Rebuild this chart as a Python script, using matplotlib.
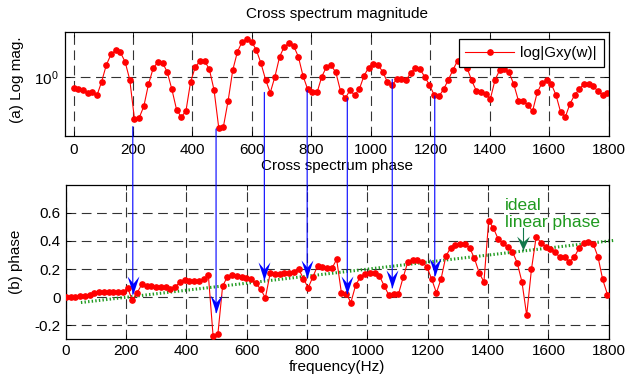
import numpy as np
import matplotlib
matplotlib.use("Agg")
import matplotlib.pyplot as plt
from matplotlib.path import Path
from matplotlib.patches import ConnectionPatch
from matplotlib.transforms import blended_transform_factory
from matplotlib.ticker import NullLocator, FuncFormatter

plt.rcParams["font.family"] = ["Liberation Sans", "DejaVu Sans"]
plt.rcParams["mathtext.default"] = "regular"
plt.rcParams["axes.unicode_minus"] = False
plt.rcParams["font.size"] = 11
plt.rcParams["lines.scale_dashes"] = False

# frequency grid of the measured spectrum (Hz)
freq = np.arange(115) * 15.75

# |Gxy(w)|
gxy_mag = [
    0.883, 0.872, 0.862, 0.832, 0.835, 0.806, 0.947, 1.153, 1.306, 1.369,
    1.337, 1.199, 0.970, 0.613, 0.618, 0.708, 0.918, 1.108, 1.195, 1.185,
    1.062, 0.865, 0.681, 0.625, 0.671, 0.947, 1.126, 1.208, 1.208, 1.095,
    0.859, 0.551, 0.558, 0.755, 1.087, 1.348, 1.517, 1.558, 1.517, 1.380,
    1.180, 0.970, 0.832, 1.005, 1.271, 1.430, 1.486, 1.442, 1.271, 1.013,
    0.865, 0.842, 0.835, 1.005, 1.126, 1.146, 1.058, 0.849, 0.778, 0.855,
    0.810, 0.865, 1.013, 1.117, 1.171, 1.153, 1.066, 0.944, 0.911, 0.973,
    0.973, 0.962, 1.053, 1.108, 1.095, 1.001, 0.911, 0.810, 0.797, 0.865,
    0.966, 1.087, 1.213, 1.227, 1.117, 0.962, 0.850, 0.837, 0.818, 0.774,
    0.968, 1.087, 1.104, 1.056, 0.917, 0.756, 0.756, 0.720, 0.669, 0.834,
    0.931, 0.962, 0.922, 0.810, 0.662, 0.625, 0.731, 0.810, 0.868, 0.927,
    0.920, 0.895, 0.847, 0.811, 0.827,
]

# phase of Gxy(w)
gxy_phase = [
    0.000, 0.000, 0.000, 0.005, 0.012, 0.015, 0.030, 0.034, 0.034, 0.034,
    0.034, 0.034, 0.034, 0.066, -0.021, 0.031, 0.092, 0.083, 0.078, 0.074,
    0.074, 0.074, 0.057, 0.074, 0.105, 0.121, 0.114, 0.114, 0.114, 0.126,
    0.157, -0.279, -0.264, 0.079, 0.145, 0.157, 0.150, 0.145, 0.138, 0.133,
    0.098, 0.057, -0.005, 0.169, 0.162, 0.162, 0.169, 0.174, 0.181, 0.200,
    0.133, 0.066, 0.145, 0.224, 0.216, 0.205, 0.205, 0.269, 0.031, 0.026,
    -0.038, 0.086, 0.145, 0.162, 0.174, 0.169, 0.152, 0.081, 0.014, 0.021,
    0.021, 0.141, 0.252, 0.264, 0.264, 0.252, 0.216, 0.129, 0.031, 0.133,
    0.293, 0.352, 0.371, 0.376, 0.376, 0.352, 0.276, 0.174, 0.109, 0.545,
    0.491, 0.414, 0.383, 0.355, 0.324, 0.245, 0.109, -0.129, 0.198, 0.431,
    0.388, 0.359, 0.341, 0.319, 0.284, 0.284, 0.252, 0.284, 0.348, 0.388,
    0.395, 0.379, 0.288, 0.126, 0.019,
]

# ideal linear phase, end points
ideal_freq = [50, 1820]
ideal_phase = [-0.038, 0.405]

# blue arrows: from magnitude dips down to the phase jumps
arrow_freq = [222, 498, 658, 800, 933, 1082, 1223]
arrow_start_mag = [0.558, 0.543, 0.835, 0.855, 0.778, 0.973, 0.801]
arrow_tip_phase = [0.021, -0.109, 0.121, 0.138, 0.026, 0.066, 0.150]

# green note arrow
note_freq = 1516
note_tail = 0.49
note_tip = 0.336

red = "#ff0000"
green = "#1f9a1f"
dark_green = "#12784a"
grid_style = dict(color="0.2", linestyle=(0, (7, 4)), linewidth=0.8)


# arrow head shaped like the matlab one, tip at the origin
def make_head(half_width):
    verts = [(0, 0), (half_width, 1), (0, 0.6), (-half_width, 1), (0, 0)]
    codes = [Path.MOVETO, Path.LINETO, Path.LINETO, Path.LINETO, Path.CLOSEPOLY]
    return Path(verts, codes)


def style_axes(ax):
    ax.tick_params(which="both", direction="in", length=3.5, width=0.6,
                   top=True, right=True, labelsize=11)
    for spine in ax.spines.values():
        spine.set_linewidth(0.9)
    ax.grid(True, **grid_style)
    ax.set_axisbelow(True)


fig = plt.figure(figsize=(6.27, 3.83), dpi=100)
ax1 = fig.add_axes([0.104, 0.645, 0.867, 0.2715])
ax2 = fig.add_axes([0.105, 0.114, 0.866, 0.4035])

# upper plot: magnitude
ax1.plot(freq, gxy_mag, color=red, linewidth=0.8, marker="o",
         markersize=3.8, label="log|Gxy(w)|")
ax1.set_yscale("log")
ax1.set_ylim(0.5, 1.7)
ax1.set_yticks([1])
ax1.yaxis.set_minor_locator(NullLocator())
ax1.set_xlim(-28, 1800)
ax1.set_xticks(range(0, 1801, 200))
style_axes(ax1)
ax1.tick_params(axis="x", pad=5)
ax1.tick_params(axis="y", pad=5)
ax1.set_title("Cross spectrum magnitude", fontsize=11, pad=9.9)
ax1.set_ylabel("(a) Log mag.", fontsize=11)
ax1.yaxis.set_label_coords(-0.0754, 0.54)
leg = ax1.legend(loc="upper right", bbox_to_anchor=(0.991, 0.93),
                 borderaxespad=0, fancybox=False, edgecolor="black",
                 framealpha=1, numpoints=1, handlelength=3.2,
                 handletextpad=0.4, borderpad=0.45, fontsize=11)
leg.get_frame().set_linewidth(0.9)

# lower plot: phase
ax2.plot(freq, gxy_phase, color=red, linewidth=0.8, marker="o",
         markersize=3.8, zorder=3)
ax2.plot(ideal_freq, ideal_phase, color=green, linewidth=2.2,
         linestyle=(0, (1, 1.6)), clip_on=False, zorder=2)
ax2.set_xlim(0, 1800)
ax2.set_ylim(-0.3, 0.8)
ax2.set_xticks(range(0, 1801, 200))
ax2.set_yticks([-0.2, 0, 0.2, 0.4, 0.6])
ax2.yaxis.set_major_formatter(FuncFormatter(lambda v, p: f"{v:g}"))
style_axes(ax2)
ax2.set_title("Cross spectrum phase", fontsize=11, pad=10.5)
ax2.set_xlabel("frequency(Hz)", fontsize=11, labelpad=1.5)
ax2.set_ylabel("(b) phase", fontsize=11)
ax2.yaxis.set_label_coords(-0.079, 0.5)

# blue arrows crossing from the upper plot into the lower one
start_trans = blended_transform_factory(ax2.transData, ax1.transData)
for f, m, t in zip(arrow_freq, arrow_start_mag, arrow_tip_phase):
    con = ConnectionPatch(xyA=(f, m), coordsA=start_trans,
                          xyB=(f, t), coordsB=ax2.transData,
                          color="blue", linewidth=0.8)
    fig.add_artist(con)
ax2.plot(arrow_freq, arrow_tip_phase, linestyle="none",
         marker=make_head(0.33), markersize=26, color="blue",
         markeredgewidth=0, clip_on=False, zorder=5)

# ideal linear phase note
ax2.text(1457, 0.478, "ideal\nlinear phase", color=green, fontsize=12.5,
         va="bottom", ha="left", linespacing=1.15)
ax2.plot([note_freq, note_freq], [note_tail, note_tip], color=dark_green,
         linewidth=0.8, zorder=4)
ax2.plot([note_freq], [note_tip], linestyle="none",
         marker=make_head(0.46), markersize=20, color=dark_green,
         markeredgewidth=0, zorder=5)

fig.savefig("out.png", dpi=100, facecolor="white")
